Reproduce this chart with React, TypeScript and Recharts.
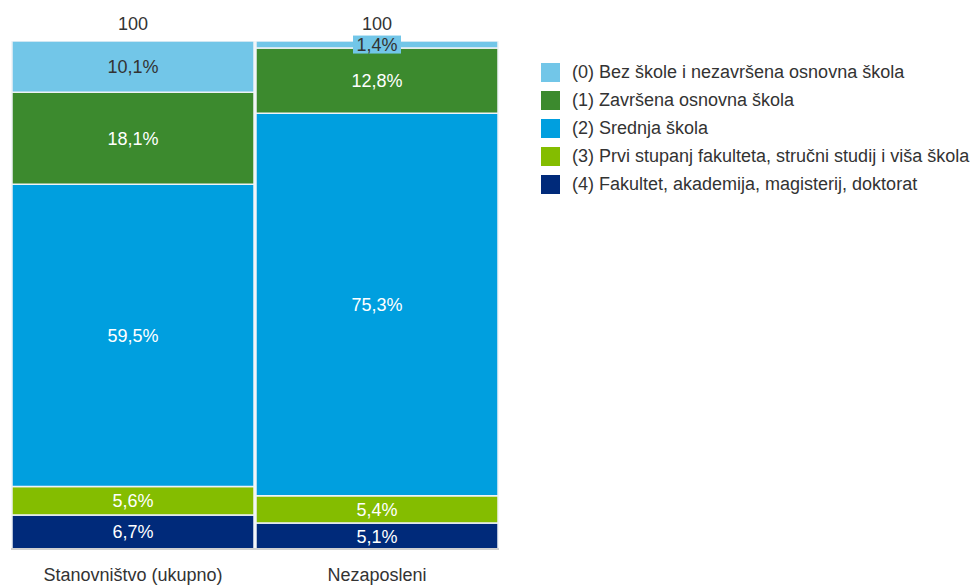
import React from 'react'
import { BarChart, Bar, XAxis, YAxis, LabelList } from 'recharts'

const categories = ['Stanovništvo (ukupno)', 'Nezaposleni']
const totals = [100, 100]

const seriesNames = [
  '(0) Bez škole i nezavršena osnovna škola',
  '(1) Završena osnovna škola',
  '(2) Srednja škola',
  '(3) Prvi stupanj fakulteta, stručni studij i viša škola',
  '(4) Fakultet, akademija, magisterij, doktorat',
]
const seriesColors = ['#72c6e8', '#3c8a2e', '#009fdf', '#84bd00', '#002a7a']
const labelColors = ['#333333', '#ffffff', '#ffffff', '#ffffff', '#ffffff']

const edu0 = [10.1, 1.4]
const edu1 = [18.1, 12.8]
const edu2 = [59.5, 75.3]
const edu3 = [5.6, 5.4]
const edu4 = [6.7, 5.1]

const data = categories.map((name, i) => ({
  name,
  total: totals[i],
  s0: edu0[i],
  s1: edu1[i],
  s2: edu2[i],
  s3: edu3[i],
  s4: edu4[i],
}))

const font = '"Liberation Sans", Arial, sans-serif'
const fs = 18
const pct = (v: number) => v.toFixed(1).replace('.', ',') + '%'

function SegmentLabel(props: any, idx: number) {
  const { x, y, width, height, value } = props
  const cx = x + width / 2
  const cy = y + height / 2
  const small = height < 20
  return (
    <g>
      {small && (
        <rect x={cx - 24} y={cy - 9} width={48} height={18} fill={seriesColors[idx]} />
      )}
      <text x={cx} y={cy} dy={6.5} textAnchor="middle" fill={labelColors[idx]} fontSize={fs} fontFamily={font}>
        {pct(Number(value))}
      </text>
    </g>
  )
}

function TotalLabel(props: any) {
  const { x, y, width, index } = props
  return (
    <text x={x + width / 2} y={y - 11} textAnchor="middle" fill="#333" fontSize={fs} fontFamily={font}>
      {totals[index]}
    </text>
  )
}

function CategoryTick(props: any) {
  const { x, y, payload } = props
  return (
    <text x={x} y={y} dy={32} textAnchor="middle" fill="#333" fontSize={fs} fontFamily={font}>
      {payload.value}
    </text>
  )
}

export default function App() {
  // stacked bottom-up: (4) at the bottom, (0) on top
  const order = [4, 3, 2, 1, 0]
  return (
    <div style={{ position: 'absolute', left: 0, top: 0, width: 971, height: 586, background: '#fff', fontFamily: font }}>
      <BarChart
        width={971}
        height={586}
        data={data}
        margin={{ top: 41, right: 472, bottom: 0, left: 11 }}
        barCategoryGap={1}
      >
        <XAxis
          dataKey="name"
          height={37}
          tickLine={false}
          tickSize={0}
          tickMargin={0}
          axisLine={{ stroke: '#d0d0d0', strokeWidth: 2 }}
          tick={CategoryTick}
          interval={0}
        />
        <YAxis hide domain={[0, 100]} type="number" allowDataOverflow />
        {order.map((idx) => (
          <Bar
            key={idx}
            dataKey={'s' + idx}
            name={seriesNames[idx]}
            stackId="a"
            fill={seriesColors[idx]}
            stroke="#eef2f6"
            strokeWidth={1.5}
            isAnimationActive={false}
          >
            <LabelList dataKey={'s' + idx} content={(p: any) => SegmentLabel(p, idx)} />
            {idx === 0 && <LabelList dataKey="total" content={TotalLabel} />}
          </Bar>
        ))}
      </BarChart>
      <div style={{ position: 'absolute', left: 541, top: 59 }}>
        {seriesNames.map((n, i) => (
          <div key={n} style={{ display: 'flex', alignItems: 'center', height: 27.8 }}>
            <div style={{ width: 19, height: 19, background: seriesColors[i], marginRight: 12 }} />
            <span style={{ fontSize: fs, color: '#333', whiteSpace: 'nowrap' }}>{n}</span>
          </div>
        ))}
      </div>
    </div>
  )
}
